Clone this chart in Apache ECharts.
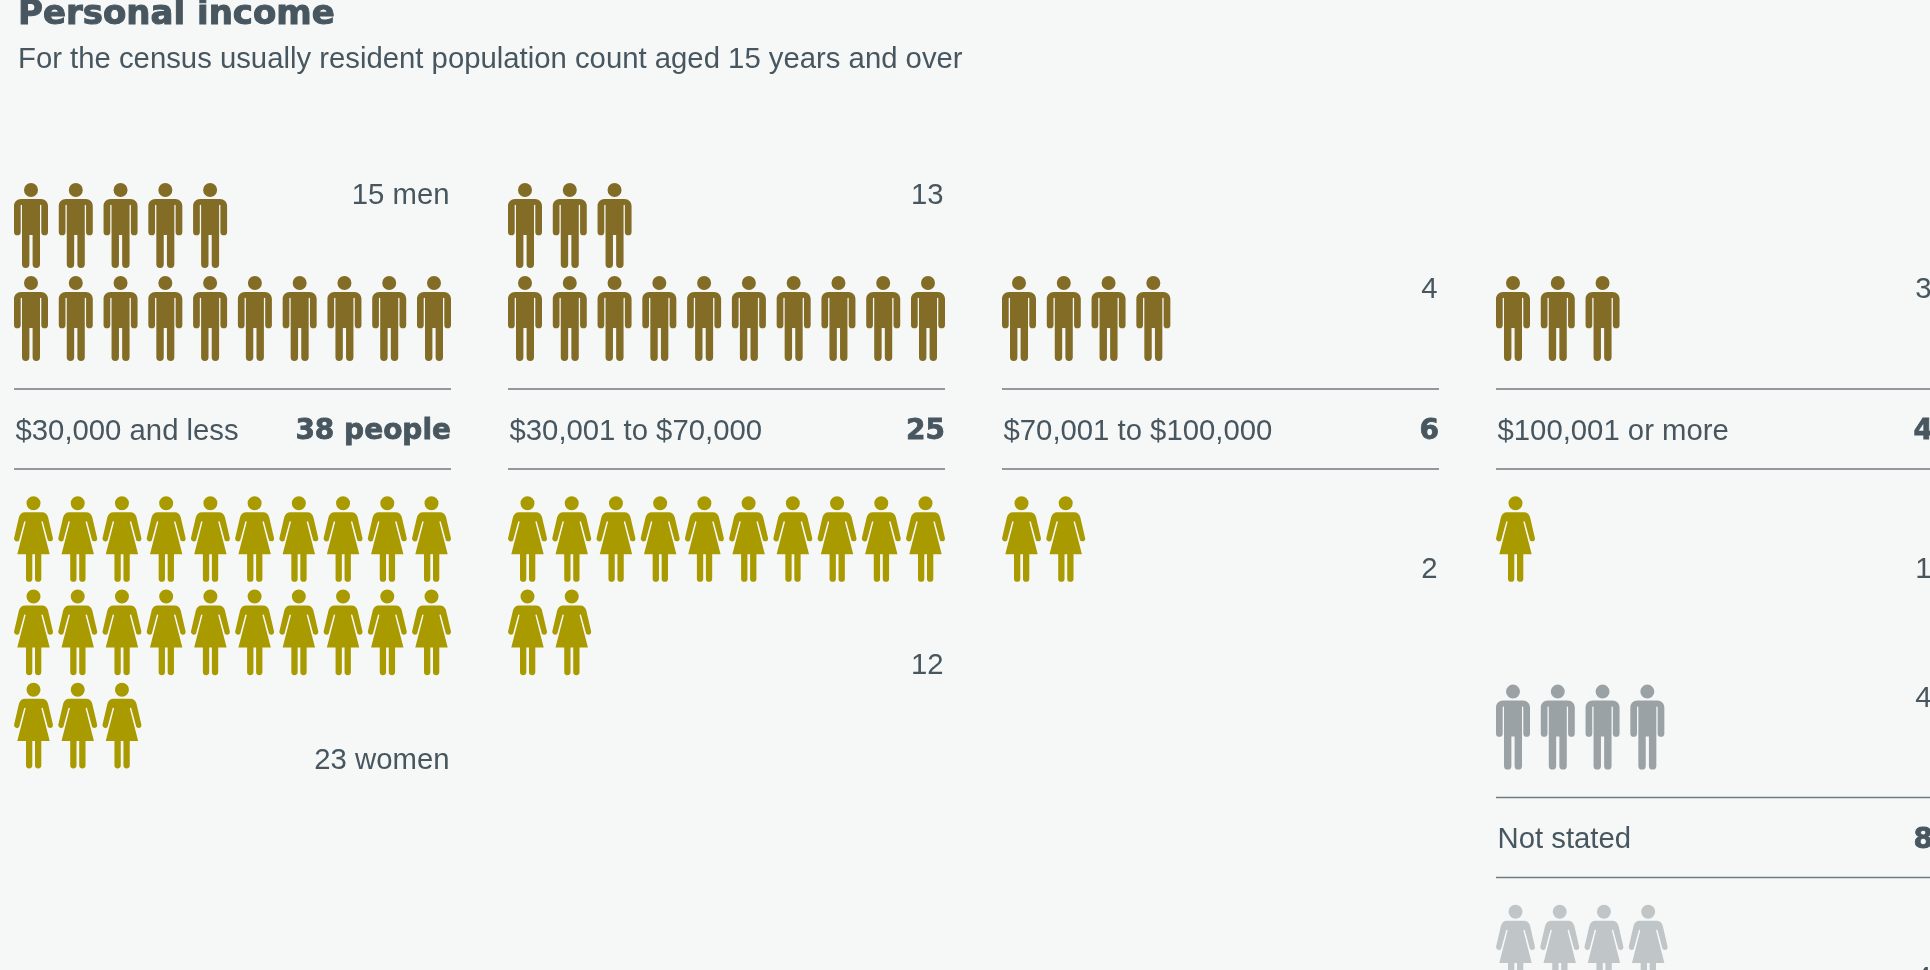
<!DOCTYPE html>
<html><head><meta charset="utf-8">
<style>html,body{margin:0;padding:0;background:#f6f8f8;overflow:hidden}#c{width:1930px;height:970px}</style>
<script src="https://cdn.jsdelivr.net/npm/echarts@6/dist/echarts.min.js"></script>
</head><body><div id="c"></div>
<script>
const categories = ['$30,000 and less', '$30,001 to $70,000', '$70,001 to $100,000', '$100,001 or more', 'Not stated'];
const totals = ['38 people', '25', '6', '4', '8'];
const men = [15, 13, 4, 3, 4];
const women = [23, 12, 2, 1, 4];
const menLabels = ['15 men', '13', '4', '3', '4'];
const womenLabels = ['23 women', '12', '2', '1', '4'];
const titleText = 'Personal income';
const subtitleText = 'For the census usually resident population count aged 15 years and over';

const MAN = 'path://M17 0A7 7 0 1 1 17 14A7 7 0 1 1 17 0ZM7 16H27C31 16 34 19 34 23V49A3.35 3.35 0 0 1 27.3 49V22.5A.65 .65 0 0 0 26 22.5V81.5A3.7 3.7 0 0 1 18.6 81.5V52H15.4V81.5A3.7 3.7 0 0 1 8 81.5V22.5A.65 .65 0 0 0 6.7 22.5V49A3.35 3.35 0 0 1 0 49V23C0 19 3 16 7 16Z';
const WOMAN = 'path://M19.5 0.3A7 7 0 1 1 19.5 14.3A7 7 0 1 1 19.5 0.3ZM11 16.3H28C31 16.3 33 18 34 21L39 42.5A3 3 0 0 1 33.9 44.5L28.9 26A.75 .75 0 0 0 27.4 26L35.7 58.3H27.3V82.6A3.15 3.15 0 0 1 21 82.6V58.3H18.3V82.6A3.15 3.15 0 0 1 12 82.6V58.3H3.3L11.6 26A.75 .75 0 0 0 10.1 26L5.1 44.5A3 3 0 0 1 0 42.5L5 21C6 18 8 16.3 11 16.3Z';

const TEXT = '#47565f', LINE = '#6f7a82';
const SANS = '"Liberation Sans", Arial, sans-serif', HEAVY = '"DejaVu Sans", sans-serif';
const panelX = [14, 508, 1002, 1496, 1496];
const panelDy = [0, 0, 0, 0, 408.6];
const PANEL_W = 437;
const menColor = ['#836c25', '#836c25', '#836c25', '#836c25', '#9ba2a5'];
const womenColor = ['#a99a00', '#a99a00', '#a99a00', '#a99a00', '#c0c5c8'];

const grids = [], xAxes = [], yAxes = [], series = [], graphic = [];
function text(x, y, s, size, align, extra) {
  graphic.push({ type: 'text', x, y, silent: true, style: Object.assign({ text: s, fill: TEXT, font: size + 'px ' + SANS, textAlign: align, textVerticalAlign: 'middle' }, extra || {}) });
}
function unit(i, count, symbol, size, color, left, width, top, height, inverse) {
  const k = grids.length;
  grids.push({ left, top, width, height });
  xAxes.push({ gridIndex: k, type: 'value', min: 0, max: 9, show: false });
  yAxes.push({ gridIndex: k, type: 'value', min: 0, max: 2, inverse, show: false });
  const pts = [];
  for (let n = 0; n < count; n++) pts.push([n % 10, Math.floor(n / 10)]);
  series.push({ type: 'scatter', xAxisIndex: k, yAxisIndex: k, symbol, symbolSize: size, silent: true, animation: false, itemStyle: { color, opacity: 1 }, clip: false, data: pts });
}
categories.forEach((c, i) => {
  const x = panelX[i], dy = panelDy[i];
  // men grow upward from the rule, women downward
  unit(i, men[i], MAN, [34, 85], menColor[i], x + 17, 403, 318.5 + dy - 186, 186, false);
  unit(i, women[i], WOMAN, [39, 85.7], womenColor[i], x + 19.5, 398, 539 + dy, 186.6, true);
  [389, 469].forEach(y => graphic.push({ type: 'line', silent: true, shape: { x1: x, y1: y + dy, x2: x + PANEL_W, y2: y + dy }, style: { stroke: LINE, lineWidth: 1.5 } }));
  text(x + 1.5, 431.5 + dy, c, 29.3, 'left');
  text(x + PANEL_W, 432 + dy, totals[i], 28, 'right', { font: '900 28px ' + HEAVY, stroke: TEXT, lineWidth: 0.8 });
  const rowsM = Math.ceil(men[i] / 10), rowsW = Math.ceil(women[i] / 10);
  text(x + PANEL_W - 1.5, 290 + dy - (rowsM - 1) * 94, menLabels[i], 29.3, 'right');
  text(x + PANEL_W - 1.5, 570 + dy + (rowsW - 1) * 95.5, womenLabels[i], 29.3, 'right');
});
text(18, 15, titleText, 34, 'left', { font: '900 34px ' + HEAVY, stroke: TEXT, lineWidth: 1 });
text(18, 60, subtitleText, 29.3, 'left');

const chart = echarts.init(document.getElementById('c'));
chart.setOption({ backgroundColor: '#f6f8f8', animation: false, grid: grids, xAxis: xAxes, yAxis: yAxes, series, graphic: { elements: graphic } });
</script></body></html>
